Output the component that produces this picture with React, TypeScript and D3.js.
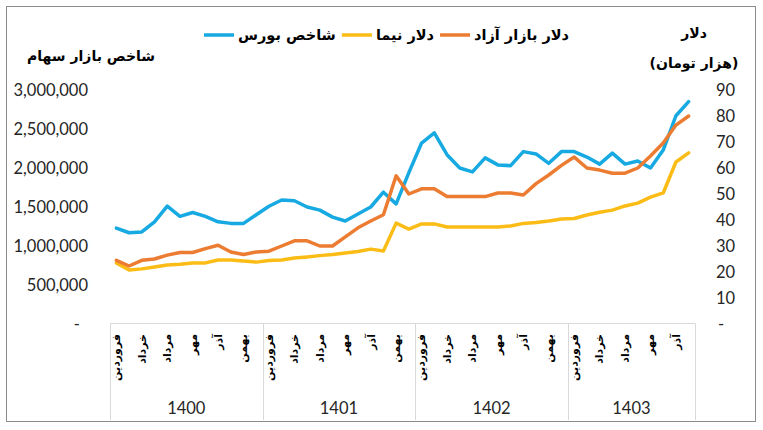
import React, { useEffect, useRef } from "react";
import * as d3 from "d3";

// months of the Persian calendar, every other one is labelled on the axis
const months = ["فروردین", "اردیبهشت", "خرداد", "تیر", "مرداد", "شهریور", "مهر", "آبان", "آذر", "دی", "بهمن", "اسفند"];
const years = ["1400", "1401", "1402", "1403"];
const monthsPerYear = [12, 12, 12, 10];

// شاخص بورس (left axis)
const bourse = [
	1230000, 1170000, 1180000, 1310000, 1510000, 1380000, 1430000, 1380000, 1310000, 1290000, 1290000, 1400000,
	1510000, 1590000, 1580000, 1500000, 1460000, 1370000, 1320000, 1410000, 1500000, 1690000, 1540000, 1940000,
	2320000, 2450000, 2170000, 2000000, 1950000, 2130000, 2040000, 2030000, 2210000, 2180000, 2060000, 2210000,
	2210000, 2140000, 2050000, 2190000, 2050000, 2090000, 2000000, 2230000, 2670000, 2850000,
];
// دلار نیما (right axis, thousand toman)
const nima = [
	23.5, 20.8, 21.2, 21.9, 22.7, 23.0, 23.5, 23.5, 24.6, 24.6, 24.2, 23.8,
	24.4, 24.6, 25.4, 25.8, 26.3, 26.7, 27.3, 27.9, 28.8, 28.1, 38.8, 36.5,
	38.5, 38.5, 37.3, 37.3, 37.3, 37.3, 37.3, 37.7, 38.7, 39.0, 39.6, 40.4,
	40.6, 41.9, 43.0, 43.8, 45.4, 46.5, 48.8, 50.4, 62.3, 65.8,
];
// دلار بازار آزاد (right axis)
const freeMarket = [
	24.5, 22.3, 24.5, 25.0, 26.5, 27.5, 27.5, 29.0, 30.3, 27.7, 26.7, 27.7,
	28.0, 30.0, 32.0, 32.0, 30.0, 30.0, 33.5, 37.0, 39.6, 42.0, 57.0, 50.0,
	52.0, 52.0, 49.0, 49.0, 49.0, 49.0, 50.4, 50.4, 49.6, 54.0, 57.3, 61.0,
	64.2, 60.0, 59.2, 58.0, 58.0, 60.0, 64.6, 69.6, 76.5, 80.0,
];

const leftTicks = [0, 500000, 1000000, 1500000, 2000000, 2500000, 3000000];
const rightTicks = [0, 10, 20, 30, 40, 50, 60, 70, 80, 90];

const seriesList = [
	{ name: "شاخص بورس", values: bourse, axis: "left", color: "#17a9e1" },
	{ name: "دلار نیما", values: nima, axis: "right", color: "#fbbc16" },
	{ name: "دلار بازار آزاد", values: freeMarket, axis: "right", color: "#ec7c31" },
];

const W = 763;
const H = 430;
const numFont = "Lato, 'Liberation Sans', sans-serif";
const faFont = "'DejaVu Sans', sans-serif";

export default function App() {
	const ref = useRef<SVGSVGElement>(null);

	useEffect(() => {
		const svg = d3.select(ref.current);
		svg.selectAll("*").remove();

		const plot = { left: 110, right: 695, top: 90, bottom: 324 };

		const cats: { year: number; month: number }[] = [];
		years.forEach((y, yi) => {
			for (let m = 0; m < monthsPerYear[yi]; m++) cats.push({ year: yi, month: m });
		});

		const x = d3
			.scaleBand<number>()
			.domain(cats.map((d, i) => i))
			.range([plot.left, plot.right]);
		const cx = (i: number) => (x(i) as number) + x.bandwidth() / 2;

		const yLeft = d3.scaleLinear().domain([0, 3000000]).range([plot.bottom, plot.top]);
		const yRight = d3.scaleLinear().domain([0, 90]).range([plot.bottom, plot.top]);

		// outer frame
		svg.append("rect")
			.attr("x", 6.5)
			.attr("y", 6.5)
			.attr("width", 749)
			.attr("height", 415)
			.attr("fill", "#fff")
			.attr("stroke", "#8c8c8c")
			.attr("stroke-width", 1);

		// category table lines
		const grid = svg.append("g").attr("stroke", "#d9d9d9").attr("stroke-width", 1);
		grid.append("line")
			.attr("x1", plot.left)
			.attr("x2", plot.right)
			.attr("y1", plot.bottom - 0.5)
			.attr("y2", plot.bottom - 0.5);
		let start = 0;
		const bounds = [0];
		monthsPerYear.forEach((n) => {
			start += n;
			bounds.push(start);
		});
		bounds.forEach((b) => {
			const bx = b < cats.length ? (x(b) as number) : plot.right;
			grid.append("line")
				.attr("x1", Math.round(bx) + 0.5)
				.attr("x2", Math.round(bx) + 0.5)
				.attr("y1", plot.bottom - 0.5)
				.attr("y2", 420);
		});

		// left axis labels
		svg.append("g")
			.selectAll("text")
			.data(leftTicks)
			.join("text")
			.attr("x", (d) => (d === 0 ? 80 : 88))
			.attr("y", (d) => yLeft(d))
			.attr("dy", "0.36em")
			.attr("text-anchor", "end")
			.attr("font-family", numFont)
			.attr("font-size", 16.5)
			.attr("fill", "#262626")
			.text((d) => (d === 0 ? "-" : d3.format(",")(d)));

		// right axis labels
		svg.append("g")
			.selectAll("text")
			.data(rightTicks)
			.join("text")
			.attr("x", (d) => (d === 0 ? 718 : 716))
			.attr("y", (d) => yRight(d))
			.attr("dy", "0.36em")
			.attr("font-family", numFont)
			.attr("font-size", 16.5)
			.attr("fill", "#262626")
			.text((d) => (d === 0 ? "-" : String(d)));

		// month labels (rotated)
		svg.append("g")
			.selectAll("text")
			.data(cats.map((c, i) => ({ ...c, i })).filter((c) => c.month % 2 === 0))
			.join("text")
			.attr("transform", (d) => `translate(${cx(d.i)},334) rotate(-90)`)
			.attr("text-anchor", "end")
			.attr("dy", "0.35em")
			.attr("font-family", faFont)
			.attr("font-weight", "bold")
			.attr("font-size", 11)
			.attr("fill", "#000")
			.text((d) => months[d.month]);

		// year labels
		svg.append("g")
			.selectAll("text")
			.data(years)
			.join("text")
			.attr("x", (d, i) => {
				const a = x(bounds[i]) as number;
				const b = bounds[i + 1] < cats.length ? (x(bounds[i + 1]) as number) : plot.right;
				return (a + b) / 2;
			})
			.attr("y", 414)
			.attr("text-anchor", "middle")
			.attr("font-family", numFont)
			.attr("font-size", 16.5)
			.attr("fill", "#262626")
			.text((d) => d);

		// lines
		seriesList.forEach((s) => {
			const yScale = s.axis === "left" ? yLeft : yRight;
			const line = d3
				.line<number>()
				.x((d, i) => cx(i))
				.y((d) => yScale(d));
			svg.append("path")
				.datum(s.values)
				.attr("d", line)
				.attr("fill", "none")
				.attr("stroke", s.color)
				.attr("stroke-width", 3.5)
				.attr("stroke-linejoin", "round")
				.attr("stroke-linecap", "round");
		});

		// axis titles
		svg.append("text")
			.attr("x", 155)
			.attr("y", 61)
			.attr("text-anchor", "end")
			.attr("font-family", faFont)
			.attr("font-weight", "bold")
			.attr("font-size", 14)
			.attr("fill", "#000")
			.text("شاخص بازار سهام");
		svg.append("text")
			.attr("x", 694)
			.attr("y", 38)
			.attr("text-anchor", "middle")
			.attr("font-family", faFont)
			.attr("font-weight", "bold")
			.attr("font-size", 14)
			.attr("fill", "#000")
			.text("دلار");
		svg.append("text")
			.attr("x", 694)
			.attr("y", 68)
			.attr("text-anchor", "middle")
			.attr("font-family", faFont)
			.attr("font-weight", "bold")
			.attr("font-size", 14)
			.attr("fill", "#000")
			.text("(هزار تومان)");

		// legend
		const legend = svg.append("g").attr("transform", "translate(0,35)");
		let lx = 204;
		seriesList.forEach((s) => {
			legend.append("line")
				.attr("x1", lx)
				.attr("x2", lx + 30)
				.attr("y1", 0)
				.attr("y2", 0)
				.attr("stroke", s.color)
				.attr("stroke-width", 3.5);
			const t = legend.append("text")
				.attr("x", lx + 34)
				.attr("y", 0)
				.attr("dy", "0.35em")
				.attr("font-family", faFont)
				.attr("font-weight", "bold")
				.attr("font-size", 14.5)
				.attr("fill", "#000")
				.text(s.name);
			const w = (t.node() as SVGTextElement).getComputedTextLength();
			lx += 34 + w + 6;
		});
	}, []);

	return (
		<div style={{ position: "absolute", left: 0, top: 0 }}>
			<svg ref={ref} width={W} height={H} style={{ display: "block" }} />
		</div>
	);
}
